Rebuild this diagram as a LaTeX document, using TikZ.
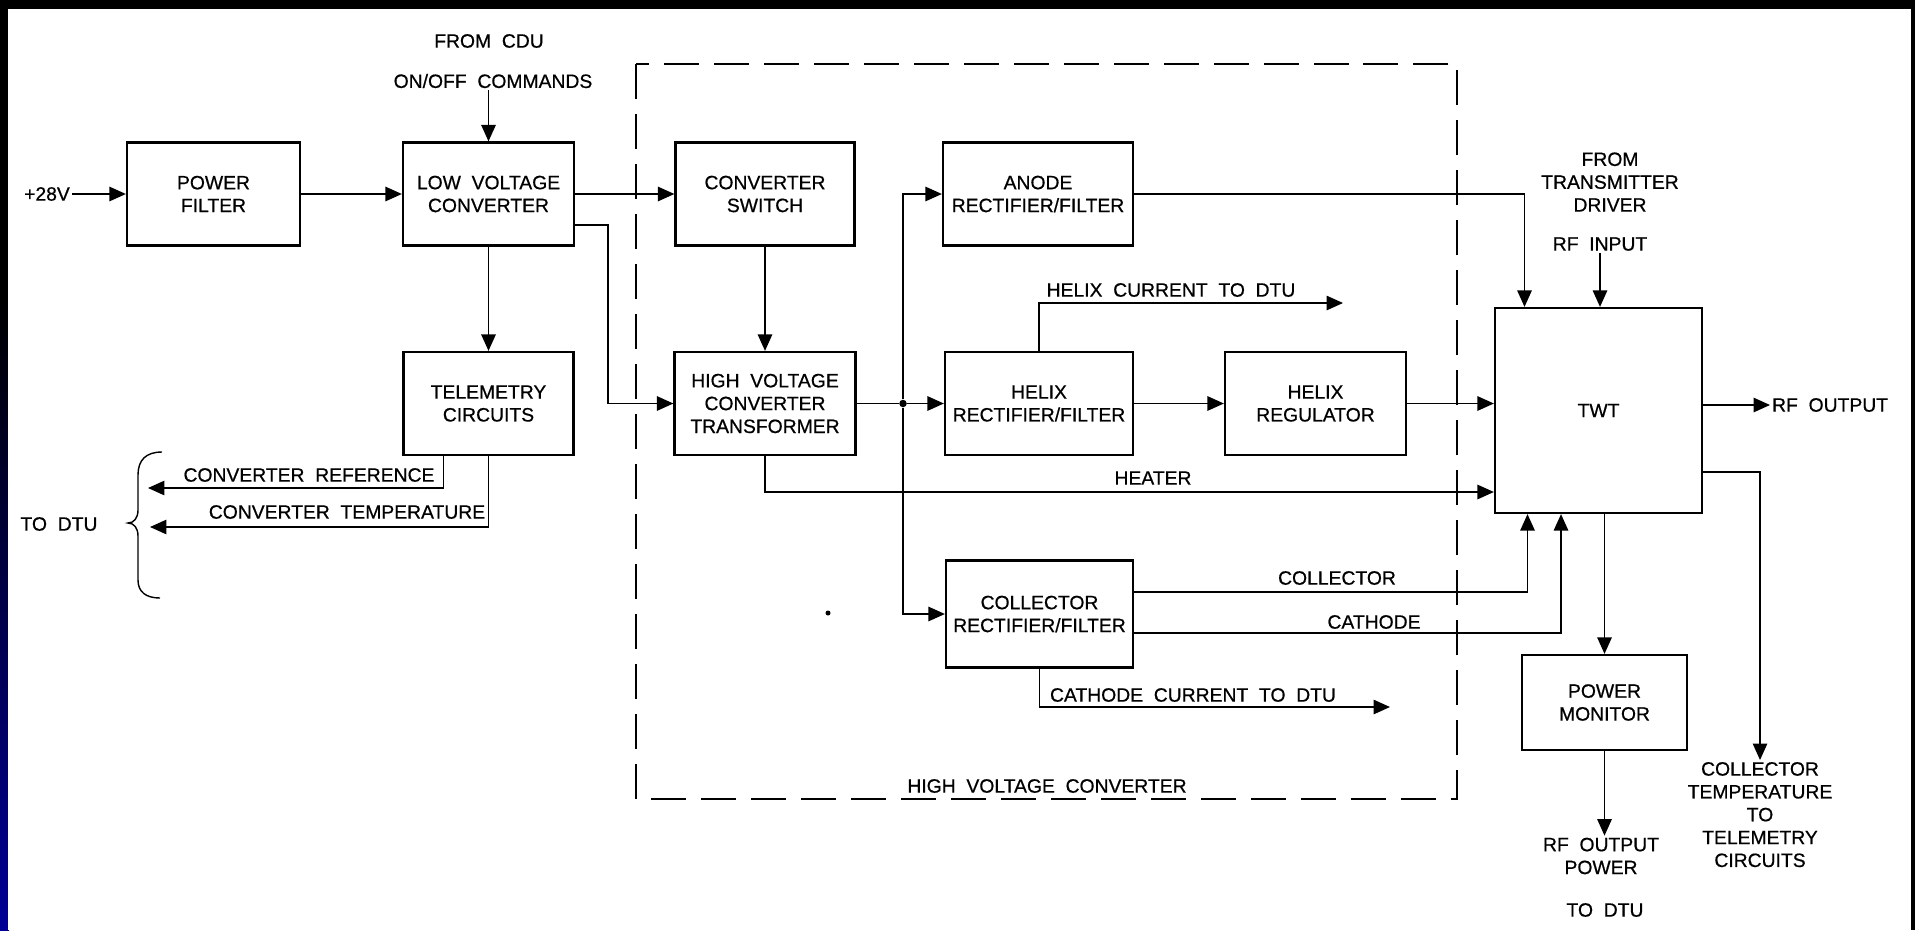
\documentclass[tikz,border=0pt]{standalone}
\usepackage{fontspec}
\setmainfont{Liberation Sans}[WordSpace=2,FakeBold=0.6]
\usetikzlibrary{arrows.meta,calc}

\begin{document}
\begin{tikzpicture}[x=0.02cm,y=-0.02cm,
	font=\fontsize{11}{13}\selectfont,
	blk/.style={draw,line width=1.3pt,align=center,inner sep=1pt},
	wire/.style={line width=0.8pt},
	arr/.style={wire,-{Triangle[length=0.33cm,width=0.29cm]}},
	lbl/.style={align=center,inner sep=1pt},
	hvbox/.style={line width=0.9pt,dash pattern=on 0.7cm off 0.3cm}]
		\fill[black] (0,0) rectangle (1915,930);
		\shade[top color=black,bottom color={rgb,255:red,0;green,0;blue,150}] (0,300) rectangle (9,930);
		\fill[white] (8,9) rectangle (1911,930);
		\useasboundingbox (0,0) rectangle (1915,930);
		\node[blk,minimum width=3.46cm,minimum height=2.06cm] (pf) at (213.5,194) {POWER\\FILTER};
		\node[blk,minimum width=3.42cm,minimum height=2.06cm] (lvc) at (488.5,194) {LOW VOLTAGE\\CONVERTER};
		\node[blk,minimum width=3.4cm,minimum height=2.06cm] (tel) at (488.5,403.5) {TELEMETRY\\CIRCUITS};
		\node[blk,minimum width=3.58cm,minimum height=2.06cm] (cs) at (765,194) {CONVERTER\\SWITCH};
		\node[blk,minimum width=3.62cm,minimum height=2.06cm] (hvct) at (765,403.5) {HIGH VOLTAGE\\CONVERTER\\TRANSFORMER};
		\node[blk,minimum width=3.8cm,minimum height=2.06cm] (anode) at (1038,194) {ANODE\\RECTIFIER/FILTER};
		\node[blk,minimum width=3.76cm,minimum height=2.06cm] (hrf) at (1039,403.5) {HELIX\\RECTIFIER/FILTER};
		\node[blk,minimum width=3.62cm,minimum height=2.06cm] (hr) at (1315.5,403.5) {HELIX\\REGULATOR};
		\node[blk,minimum width=3.74cm,minimum height=2.14cm] (crf) at (1039.5,614) {COLLECTOR\\RECTIFIER/FILTER};
		\node[blk,minimum width=4.14cm,minimum height=4.1cm] (twt) at (1598.5,410.5) {TWT};
		\node[blk,minimum width=3.3cm,minimum height=1.9cm] (pm) at (1604.5,702.5) {POWER\\MONITOR};
		\node[circle,fill,inner sep=0pt,minimum size=0.15cm] (jn) at (903,403.5) {};
		\node[lbl] (p28) at (47,194) {+28V};
		\node[lbl] (cdu) at (489,41) {FROM CDU};
		\node[lbl] (onoff) at (493,81) {ON/OFF COMMANDS};
		\node[lbl] (txd) at (1610,182) {FROM\\TRANSMITTER\\DRIVER};
		\node[lbl] (rfin) at (1600,244) {RF INPUT};
		\node[lbl,anchor=west] (rfout) at (1770,405) {RF OUTPUT};
		\node[lbl] (hxlbl) at (1171,290) {HELIX CURRENT TO DTU};
		\node[lbl] (htlbl) at (1153,478) {HEATER};
		\node[lbl] (collbl) at (1337,578) {COLLECTOR};
		\node[lbl] (catlbl) at (1374,622) {CATHODE};
		\node[lbl] (cclbl) at (1193,695) {CATHODE CURRENT TO DTU};
		\node[lbl] (hvlbl) at (1047,786) {HIGH VOLTAGE CONVERTER};
		\node[lbl] (creflbl) at (309,475) {CONVERTER REFERENCE};
		\node[lbl] (ctmplbl) at (347,512) {CONVERTER TEMPERATURE};
		\node[lbl] (todtu) at (59,524) {TO DTU};
		\node[lbl] (rfop) at (1601,856) {RF OUTPUT\\POWER};
		\node[lbl] (pmdtu) at (1605,910) {TO DTU};
		\node[lbl,anchor=north] (ctemp) at (1760,760) {COLLECTOR\\TEMPERATURE\\TO\\TELEMETRY\\CIRCUITS};
		\coordinate (hxend) at (1343,303);
		\coordinate (ccend) at (1390,707);
		\coordinate (crefend) at (148,488);
		\coordinate (ctmpend) at (150,527);
		\draw[hvbox] (636,64) rectangle (1457,799);
		\draw[arr] (p28) -- (pf);
		\draw[arr] (pf) -- (lvc);
		\draw[arr] (onoff.south -| lvc.north) -- (lvc);
		\draw[arr] (lvc) -- (tel);
		\draw[arr] (lvc) -- (cs);
		\draw[arr] ($(lvc.east)+(0,31)$) -- ++(33,0) |- (hvct);
		\draw[arr] (cs) -- (hvct);
		\draw[wire] (hvct) -- (jn);
		\draw[arr] (jn) -- (hrf);
		\draw[arr] (jn) |- (anode);
		\draw[arr] (jn) |- (crf);
		\draw[arr] (hrf) -- (hr);
		\draw[arr] (hr) -- (hr -| twt.west);
		\draw[arr] (hrf) |- (hxend);
		\draw[arr] (anode) -| ($(twt.north)+(-74,0)$);
		\draw[arr] (rfin) -- (rfin |- twt.north);
		\draw[arr] (hvct) |- ($(twt.west)+(0,81.5)$);
		\draw[arr] ($(crf.east)+(0,-22)$) -| ($(twt.south)+(-71,0)$);
		\draw[arr] ($(crf.east)+(0,19)$) -| ($(twt.south)+(-37.5,0)$);
		\draw[arr] (crf) |- (ccend);
		\draw[arr] (twt.east |- rfout) -- (rfout);
		\draw[arr] (twt.south -| pm) -- (pm);
		\draw[arr] (pm) -- (pm |- rfop.north);
		\draw[arr] ($(twt.east)+(0,61.5)$) -| (ctemp);
		\draw[arr] ($(tel.south)+(-45,0)$) |- (crefend);
		\draw[arr] (tel) |- (ctmpend);
		\draw[wire] (162,452) .. controls (146,452) and (138,460) .. (138,475) -- (138,510) .. controls (138,518) and (134,523) .. (128,523) .. controls (134,523) and (138,528) .. (138,536) -- (138,580) .. controls (138,592) and (146,598) .. (160,598);
		\fill (828,613) circle (2.5);
	\end{tikzpicture}
\end{document}
